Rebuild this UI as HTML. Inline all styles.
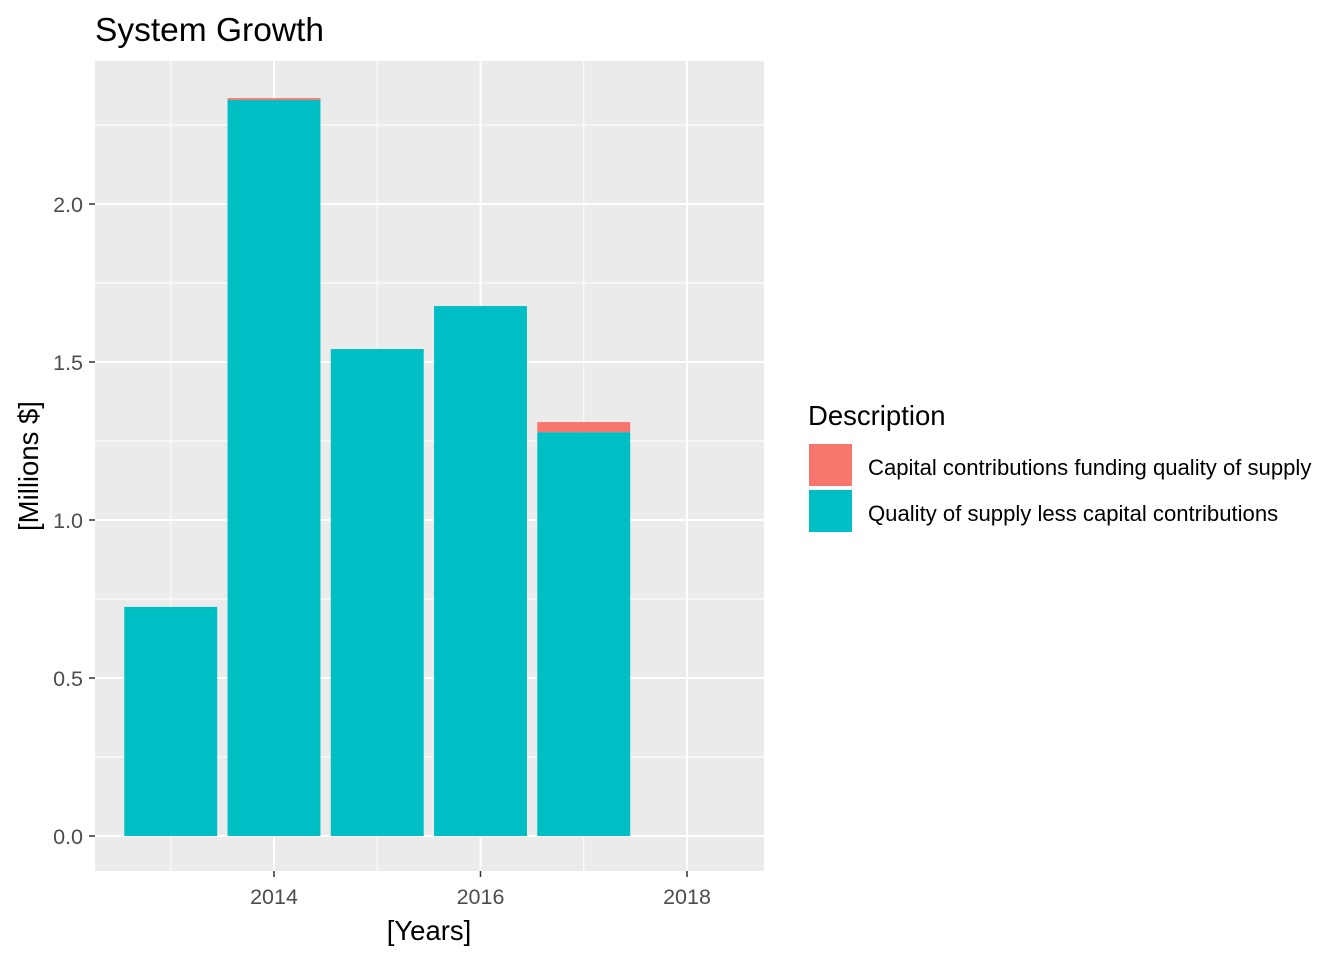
<!DOCTYPE html>
<html><head><meta charset="utf-8"><style>
body{margin:0;background:#fff;width:1344px;height:960px;overflow:hidden}
text{font-family:"Liberation Sans",Arial,sans-serif}
</style></head><body>
<svg id="chart" width="1344" height="960">
<text x="95" y="41" font-size="33.5" fill="#000">System Growth</text>
<rect x="95" y="61" width="669" height="810" fill="#ebebeb"/>
<g id="grid"></g>
<g id="bars"></g>
<g id="axes"></g>
<text x="429" y="940" font-size="27.5" text-anchor="middle" fill="#000">[Years]</text>
<text transform="translate(38,466) rotate(-90)" font-size="27.5" text-anchor="middle" fill="#000">[Millions $]</text>
<g>
<text x="808" y="425" font-size="27.5" fill="#000">Description</text>
<rect x="809" y="444" width="43" height="42" fill="#f8766d"/>
<text x="868" y="475" font-size="22.1" fill="#000">Capital contributions funding quality of supply</text>
<rect x="809" y="490" width="43" height="42" fill="#00bfc4"/>
<text x="868" y="521" font-size="22.1" fill="#000">Quality of supply less capital contributions</text>
</g>
</svg>
<script>
const years=[2013,2014,2015,2016,2017];
const quality=[0.725,2.329,1.541,1.677,1.278];
const capital=[0,0.006,0,0,0.032];
const yTicks=[0,0.5,1.0,1.5,2.0];
const yTickLabels=["0.0","0.5","1.0","1.5","2.0"];
const xTicks=[2014,2016,2018];
const xTickLabels=["2014","2016","2018"];

const X=v=>274+(v-2014)*103.25;
const Y=v=>836-v*316;
const NS="http://www.w3.org/2000/svg";
function mk(parent,tag,attrs){const e=document.createElementNS(NS,tag);for(const k in attrs)e.setAttribute(k,attrs[k]);document.getElementById(parent).appendChild(e);return e;}

for(let i=0;i<yTicks.length+1;i++){const v=0.25+i*0.5;if(Y(v)<61)continue;
 const l=mk('grid','line',{x1:95,x2:764,y1:Y(v),y2:Y(v),stroke:'#fff','stroke-width':1});
 }
[2013,2015,2017].forEach(v=>{const l=mk('grid','line',{x1:X(v),x2:X(v),y1:61,y2:871,stroke:'#fff','stroke-width':1});
 });
yTicks.forEach(v=>{const l=mk('grid','line',{x1:95,x2:764,y1:Y(v),y2:Y(v),stroke:'#fff','stroke-width':2});
 });
xTicks.forEach(v=>{const l=mk('grid','line',{x1:X(v),x2:X(v),y1:61,y2:871,stroke:'#fff','stroke-width':2});
 });

const bw=0.9*103.25;
years.forEach((yr,i)=>{
 const q=mk('bars','rect',{x:X(yr)-bw/2,y:Y(quality[i]),width:bw,height:Y(0)-Y(quality[i]),fill:'#00bfc4'});
 
 if(capital[i]>0){const c=mk('bars','rect',{x:X(yr)-bw/2,y:Y(quality[i]+capital[i]),width:bw,height:Y(quality[i])-Y(quality[i]+capital[i]),fill:'#f8766d'});
 }
});

yTicks.forEach((v,i)=>{
 const t=mk('axes','line',{x1:89,x2:95,y1:Y(v),y2:Y(v),stroke:'#333','stroke-width':1.5});
 
 const s=mk('axes','text',{x:83,y:Y(v)+8,'font-size':21.5,'text-anchor':'end',fill:'#4d4d4d'});s.textContent=yTickLabels[i];
 
});
xTicks.forEach((v,i)=>{
 const t=mk('axes','line',{x1:X(v),x2:X(v),y1:871,y2:877,stroke:'#333','stroke-width':1.5});
 
 const s=mk('axes','text',{x:X(v),y:904,'font-size':21.5,'text-anchor':'middle',fill:'#4d4d4d'});s.textContent=xTickLabels[i];
 
});
</script>
</body></html>
